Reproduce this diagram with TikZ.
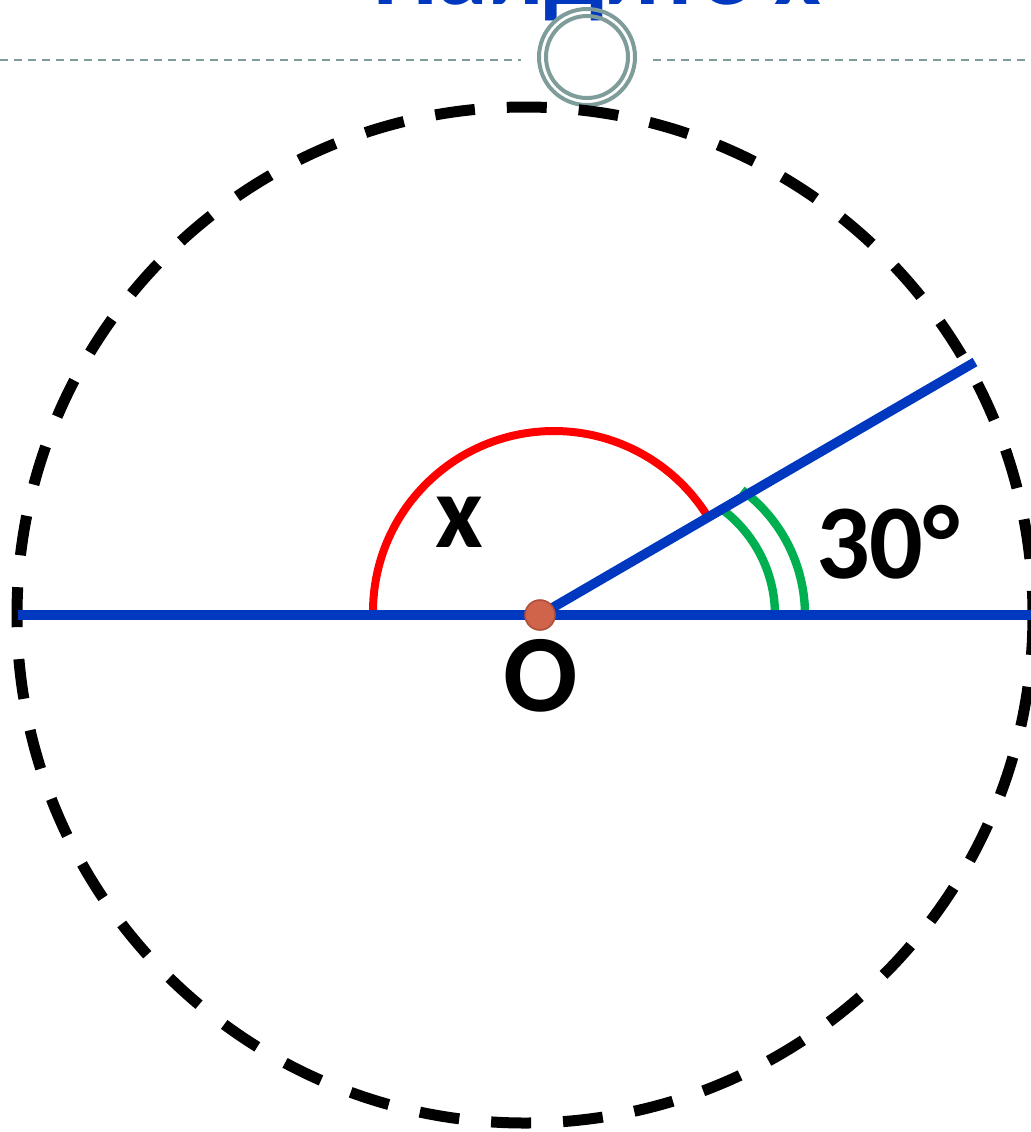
\documentclass[tikz,border=0pt]{standalone}
\usepackage{fontspec}
\setmainfont{Carlito}
\begin{document}
\begin{tikzpicture}[x=0.5pt,y=-0.5pt,
  ruleblue/.style={line width=4.8pt,draw=lineblue},
  circdash/.style={line width=5.5pt,draw=black,dash pattern=on 20pt off 16pt},
  greyline/.style={line width=1pt,draw=ringgrey,dash pattern=on 4pt off 3pt},
  redarc/.style={line width=4pt,draw=red},
  greenarc/.style={line width=4.2pt,draw=arcgreen},
  lbl/.style={inner sep=0pt,anchor=base}]
\definecolor{lineblue}{RGB}{0,56,192}
\definecolor{arcgreen}{RGB}{0,176,80}
\definecolor{ringgrey}{RGB}{126,156,154}
\definecolor{dotfill}{RGB}{208,100,74}
\definecolor{dotedge}{RGB}{176,80,60}
\clip (0,0) rectangle (1031,1132);
% title (cut off at top)
\node[font=\fontsize{51}{54}\selectfont\bfseries,text=lineblue,inner sep=0pt,anchor=base] (title) at (597,4) {Найдите х};
% grey separator
\coordinate (gl0) at (0,60);
\coordinate (gl1) at (521,60);
\coordinate (gr0) at (653,60);
\coordinate (gr1) at (1031,60);
\draw[greyline] (gl0) -- (gl1);
\draw[greyline] (gr0) -- (gr1);
\coordinate (ring) at (587,57);
\draw[line width=2pt,draw=ringgrey] (ring) circle[radius=48];
\draw[line width=2pt,draw=ringgrey] (ring) circle[radius=41];
% dashed circle
\coordinate (C) at (525,615);
\draw[circdash] (C) circle[radius=508];
% points
\coordinate (O) at (540,615);
\coordinate (L) at (18,615);
\coordinate (R) at (1031,615);
\coordinate (A) at (975,362);
% arcs
\draw[redarc] (373,612) arc[start angle=180,end angle=328,radius=181];
\draw[greenarc] (775,615) arc[start angle=0,end angle=-54,radius=132];
\draw[greenarc] (805,615) arc[start angle=0,end angle=-53.5,radius=155.5];
% lines
\draw[ruleblue] (L) -- (R);
\draw[ruleblue] (O) -- (A);
\node[circle,fill=dotfill,draw=dotedge,line width=0.8pt,minimum size=15pt,inner sep=0pt] (dot) at (O) {};
% labels
\node[lbl,font=\fontsize{52}{56}\selectfont\bfseries] (lx) at (459,547) {x};
\node[lbl,font=\fontsize{53}{56}\selectfont\bfseries] (l30) at (888,578) {30°};
\node[lbl,font=\fontsize{55}{58}\selectfont\bfseries] (lO) at (541,711) {O};
\end{tikzpicture}
\end{document}
